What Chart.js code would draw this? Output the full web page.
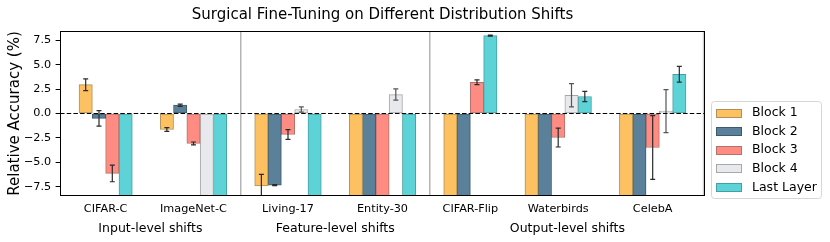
<!DOCTYPE html>
<html><head><meta charset="utf-8">
<script src="https://cdn.jsdelivr.net/npm/chart.js@4.4.1/dist/chart.umd.min.js"></script>
<style>html,body{margin:0;padding:0;background:#fff}canvas{display:block}</style>
</head><body>
<canvas id="c" width="830" height="242"></canvas>
<script>
// ---- data ----
const categories = ['CIFAR-C','ImageNet-C','Living-17','Entity-30','CIFAR-Flip','Waterbirds','CelebA'];
const groupNames = ['Input-level shifts','Feature-level shifts','Output-level shifts'];
const groupOfCategory = [0,0,1,1,2,2,2];
const seriesNames = ['Block 1','Block 2','Block 3','Block 4','Last Layer'];
const block1    = [2.95, -1.64, -7.43, -10.5, -10.5, -10.5, -10.5];
const block1Err = [0.60,  0.20,  1.19,  0,     0,     0,     0];
const block2    = [-0.50, 0.85, -7.33, -10.5, -10.5, -10.5, -10.5];
const block2Err = [0.80,  0.12,  0.05,  0,     0,     0,     0];
const block3    = [-6.14, -3.07, -2.15, -10.5, 3.20, -2.46, -3.48];
const block3Err = [0.85,  0.15,  0.50,  0,     0.24,  0.97,  3.27];
const block4    = [null, -10.5, 0.41, 1.94, null, 1.87, 0.24];
const block4Err = [null,  0,    0.27, 0.58, null, 1.19, 2.20];
const lastLayer    = [-10.5, -10.5, -10.5, -10.5, 7.97, 1.74, 4.02];
const lastLayerErr = [0,      0,     0,     0,    0.05, 0.53, 0.80];
const yTicks = [-7.5, -5.0, -2.5, 0.0, 2.5, 5.0, 7.5];

// ---- styling ----
const seriesValues = [block1, block2, block3, block4, lastLayer];
const seriesErrors = [block1Err, block2Err, block3Err, block4Err, lastLayerErr];
const fills = ['#FEC161','#5A8199','#FE8C82','#E8E9EC','#5DD3D8'];
const edges = ['#ad9158','#3d5a6b','#b5716b','#a8a8ab','#44a0a4'];
const errColors = ['#2a2a2a','#2a2a2a','#2a2a2a','#555555','#2a2a2a'];
const FONT = "'DejaVu Sans', sans-serif";

// ---- layout in axis units (1 unit = one bar width) ----
const GAP = 2.1, EDGE = 1.43;
const barX = seriesValues.map(() => []);
const catCenter = [], catStart = [], catEnd = [];
let cur = 0;
categories.forEach((c, i) => {
  let k = 0;
  seriesValues.forEach((vals, s) => {
    if (vals[i] !== null) { barX[s][i] = cur + k + 0.5; k++; } else barX[s][i] = null;
  });
  catStart[i] = cur; catEnd[i] = cur + k; catCenter[i] = cur + k / 2;
  cur += k + GAP;
});
const xMin = -EDGE, xMax = catEnd[catEnd.length - 1] + EDGE;
// group separators
const separators = [];
for (let i = 0; i < categories.length - 1; i++) {
  if (groupOfCategory[i] !== groupOfCategory[i + 1]) separators.push((catEnd[i] + catStart[i + 1]) / 2);
}
const groupBounds = groupNames.map((g, gi) => [gi === 0 ? xMin : separators[gi - 1], gi === groupNames.length - 1 ? xMax : separators[gi]]);

const datasets = seriesNames.map((name, s) => ({
  label: name,
  data: categories.map((c, i) => seriesValues[s][i] === null ? null :
        { x: barX[s][i], y: seriesValues[s][i], err: seriesErrors[s][i] }).filter(Boolean),
  backgroundColor: fills[s],
  borderColor: edges[s],
  borderWidth: 1,
  borderSkipped: false,
  grouped: false,
  categoryPercentage: 1,
  barPercentage: 1
}));

const decorPlugin = {
  id: 'decor',
  beforeDatasetsDraw(chart) {
    const {ctx, chartArea: a, scales: {x}} = chart;
    ctx.save();
    ctx.strokeStyle = '#b4b4b4';
    ctx.lineWidth = 1.5;
    separators.forEach(v => {
      const px = x.getPixelForValue(v);
      ctx.beginPath(); ctx.moveTo(px, a.top); ctx.lineTo(px, a.bottom); ctx.stroke();
    });
    // faint line at right end of last group
    const pr = a.right - 1.5;
    ctx.strokeStyle = '#cfcfcf';
    ctx.beginPath(); ctx.moveTo(pr, a.top); ctx.lineTo(pr, a.bottom); ctx.stroke();
    ctx.restore();
  },
  afterDatasetsDraw(chart) {
    const {ctx, chartArea: a, scales: {x, y}} = chart;
    ctx.save();
    ctx.beginPath(); ctx.rect(a.left, a.top, a.right - a.left, a.bottom - a.top); ctx.clip();
    // error bars
    chart.data.datasets.forEach((ds, s) => {
      const meta = chart.getDatasetMeta(s);
      ctx.strokeStyle = errColors[s];
      ctx.lineWidth = 1.2;
      ds.data.forEach((d, j) => {
        if (!d.err) return;
        const px = meta.data[j].x;
        const y1 = y.getPixelForValue(d.y - d.err), y2 = y.getPixelForValue(d.y + d.err);
        ctx.beginPath();
        ctx.moveTo(px, y1); ctx.lineTo(px, y2);
        ctx.moveTo(px - 2.5, y1); ctx.lineTo(px + 2.5, y1);
        ctx.moveTo(px - 2.5, y2); ctx.lineTo(px + 2.5, y2);
        ctx.stroke();
      });
    });
    // zero line
    const y0 = y.getPixelForValue(0);
    ctx.strokeStyle = '#000';
    ctx.lineWidth = 1.2;
    ctx.setLineDash([4.5, 2.2]);
    ctx.beginPath(); ctx.moveTo(a.left, y0); ctx.lineTo(a.right, y0); ctx.stroke();
    ctx.restore();
    // frame
    ctx.save();
    ctx.strokeStyle = '#000'; ctx.lineWidth = 1;
    ctx.strokeRect(Math.round(a.left) + 0.5, Math.round(a.top) + 0.5, Math.round(a.right - a.left) - 1, Math.round(a.bottom - a.top) - 1);
    ctx.restore();
  },
  afterDraw(chart) {
    const {ctx, scales: {x}} = chart;
    ctx.save();
    // group labels
    ctx.fillStyle = '#000';
    ctx.font = '12.5px ' + FONT;
    ctx.textAlign = 'center';
    ctx.textBaseline = 'middle';
    groupNames.forEach((g, gi) => {
      const cx = (x.getPixelForValue(groupBounds[gi][0]) + x.getPixelForValue(groupBounds[gi][1])) / 2;
      ctx.fillText(g, cx, 228.5);
    });
    // legend
    const lx = 711.5, ly = 101.5, lw = 110, lh = 97;
    ctx.beginPath();
    ctx.roundRect(lx, ly, lw, lh, 3);
    ctx.fillStyle = 'rgba(255,255,255,0.8)';
    ctx.fill();
    ctx.strokeStyle = '#d6d6d6'; ctx.lineWidth = 1; ctx.stroke();
    ctx.font = '12.5px ' + FONT;
    ctx.textAlign = 'left';
    chart.data.datasets.forEach((ds, s) => {
      const cy = 112.5 + s * 18.6;
      ctx.fillStyle = ds.backgroundColor;
      ctx.fillRect(716.5, Math.round(cy - 4) + 0.5, 25, 8);
      ctx.strokeStyle = ds.borderColor; ctx.lineWidth = 1;
      ctx.strokeRect(716.5, Math.round(cy - 4) + 0.5, 25, 8);
      ctx.fillStyle = '#000';
      ctx.fillText(ds.label, 752, cy + 0.5);
    });
    ctx.restore();
  }
};

new Chart(document.getElementById('c'), {
  type: 'bar',
  data: { datasets },
  options: {
    responsive: false,
    animation: false,
    events: [],
    layout: { padding: { left: 0, right: 125, top: 0, bottom: 0 } },
    plugins: {
      legend: { display: false },
      tooltip: { enabled: false },
      title: {
        display: true,
        fullSize: false,
        text: 'Surgical Fine-Tuning on Different Distribution Shifts',
        color: '#000',
        font: { family: FONT, size: 15, weight: 'normal' },
        padding: { top: 6, bottom: 7 }
      }
    },
    scales: {
      x: {
        type: 'linear',
        min: xMin, max: xMax,
        offset: false,
        grid: { display: false, offset: false },
        border: { display: false },
        afterFit: s => { s.height = 46; },
        afterBuildTicks: s => { s.ticks = catCenter.map(v => ({ value: v })); },
        ticks: {
          autoSkip: false, maxRotation: 0, padding: -1.5,
          color: '#000', font: { family: FONT, size: 11.25 },
          callback: v => { const i = catCenter.findIndex(c => Math.abs(c - v) < 1e-6); return i >= 0 ? categories[i] : ''; }
        }
      },
      y: {
        min: -8.45, max: 8.45,
        grid: { display: true, drawOnChartArea: false, drawTicks: true, tickLength: 4.4, color: '#000', lineWidth: 1 },
        border: { display: false },
        afterFit: s => { s.width = 60; },
        afterBuildTicks: s => { s.ticks = yTicks.map(v => ({ value: v })); },
        ticks: {
          padding: 4.4, color: '#000', font: { family: FONT, size: 11.25 },
          callback: v => (v < 0 ? '\u2212' : '') + Math.abs(v).toFixed(1)
        },
        title: {
          display: true, text: 'Relative Accuracy (%)', color: '#000',
          font: { family: FONT, size: 15 }, padding: { top: 6, bottom: 0 }
        }
      }
    }
  },
  plugins: [decorPlugin]
});
</script>
</body></html>
